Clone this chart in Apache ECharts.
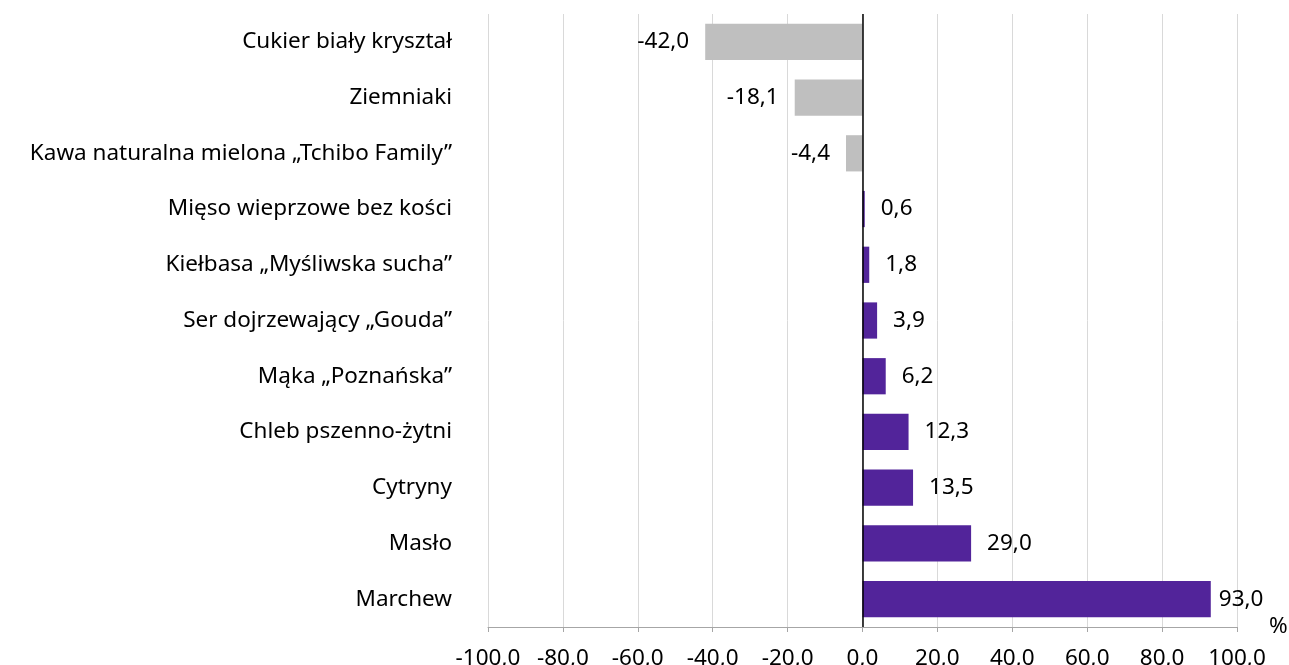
<!DOCTYPE html>
<html><head><meta charset="utf-8">
<script src="https://cdn.jsdelivr.net/npm/echarts@6/dist/echarts.min.js"></script>
<style>html,body{margin:0;padding:0;background:#fff}#c{width:1289px;height:665px}</style>
</head><body><div id="c"></div>
<script>
const categories = ['Cukier biały kryształ','Ziemniaki','Kawa naturalna mielona „Tchibo Family”','Mięso wieprzowe bez kości','Kiełbasa „Myśliwska sucha”','Ser dojrzewający „Gouda”','Mąka „Poznańska”','Chleb pszenno-żytni','Cytryny','Masło','Marchew'];
const values = [-42.0,-18.1,-4.4,0.6,1.8,3.9,6.2,12.3,13.5,29.0,93.0];
const xTicks = [-100,-80,-60,-40,-20,0,20,40,60,80,100];

const FONT = 'Noto Sans';
const FS = 22.5;
const fmt = v => v.toFixed(1).replace('.', ',');
const maxV = Math.max(...values);
const data = values.map(v => ({
  value: v,
  itemStyle: {color: v < 0 ? '#bfbfbf' : '#52249a'},
  label: {position: v < 0 ? 'left' : 'right', distance: v === maxV ? 8 : 16}
}));
const chart = echarts.init(document.getElementById('c'));
chart.setOption({
  animation: false,
  textStyle: {fontFamily: FONT},
  grid: {left: 488, right: 52, top: 14, bottom: 38, containLabel: false, outerBoundsMode: 'none'},
  xAxis: {
    type: 'value', min: xTicks[0], max: xTicks[xTicks.length-1], interval: 20,
    name: '%', nameLocation: 'end', nameGap: 32,
    nameTextStyle: {fontSize: FS, color: '#000', fontFamily: FONT, verticalAlign: 'middle', padding: [10,0,0,0]},
    axisLine: {show: true, lineStyle: {color: '#a6a6a6', width: 1}},
    axisTick: {show: true, length: 5, lineStyle: {color: '#a6a6a6'}},
    splitLine: {show: true, lineStyle: {color: '#d9d9d9', width: 1}},
    axisLabel: {formatter: fmt, fontSize: FS, color: '#000', margin: 20, fontFamily: FONT}
  },
  yAxis: {
    type: 'category', data: categories, inverse: true,
    axisLine: {show: false}, axisTick: {show: false},
    axisLabel: {fontSize: FS, color: '#000', margin: 36, fontFamily: FONT, padding: [10,0,0,0]}
  },
  series: [{
    type: 'bar', data: data, barWidth: '65%',
    label: {show: true, formatter: p => fmt(p.value), fontSize: FS, color: '#000', fontFamily: FONT, padding: [5,0,0,0]},
    markLine: {
      silent: true, symbol: 'none', label: {show: false},
      lineStyle: {color: '#000', width: 1.5, type: 'solid'},
      data: [{xAxis: 0}]
    }
  }]
});
</script></body></html>
